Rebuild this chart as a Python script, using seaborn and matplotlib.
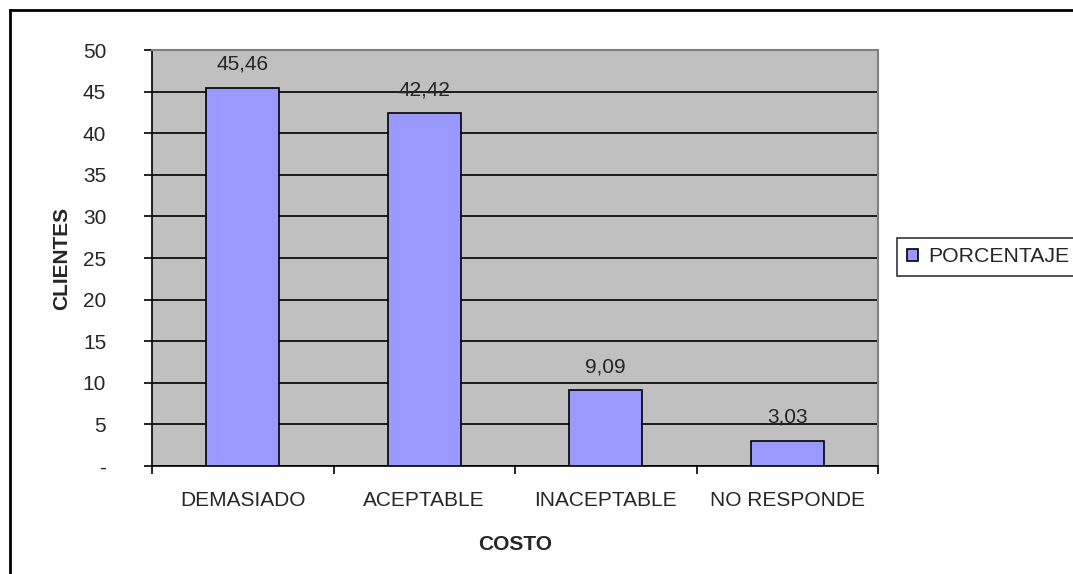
import matplotlib
matplotlib.use("Agg")
import matplotlib.pyplot as plt
import matplotlib.patches as mpatches
from matplotlib.lines import Line2D
import seaborn as sns
import pandas as pd

# Survey results: perceived cost, share of clients (%)
categorias = ["DEMASIADO", "ACEPTABLE", "INACEPTABLE", "NO RESPONDE"]
porcentaje = [45.46, 42.42, 9.09, 3.03]
etiquetas = ["45,46", "42,42", "9,09", "3,03"]
ytick_vals = [0, 5, 10, 15, 20, 25, 30, 35, 40, 45, 50]
ytick_labels = ["-", "5", "10", "15", "20", "25", "30", "35", "40", "45", "50"]

sns.set_style("white")
plt.rcParams["font.family"] = ["Liberation Sans", "DejaVu Sans"]

W, H = 1073, 574
fig = plt.figure(figsize=(W / 100, H / 100), dpi=100)
fig.patch.set_facecolor("white")

# plot area placed in pixel coordinates
L, R, T, B = 152, 878, 50, 466
ax = fig.add_axes([L / W, 1 - B / H, (R - L) / W, (B - T) / H])
ax.set_facecolor("#C0C0C0")

df = pd.DataFrame({"COSTO": categorias, "PORCENTAJE": porcentaje})
sns.barplot(data=df, x="COSTO", y="PORCENTAJE", color="#9999FF",
            edgecolor="black", linewidth=1.2, width=0.4, saturation=1,
            ax=ax, zorder=3)

ax.bar_label(ax.containers[0], labels=etiquetas, padding=10, fontsize=15)

ax.set_xlim(-0.5, len(categorias) - 0.5)
ax.set_ylim(0, 50)
ax.set_yticks(ytick_vals)
ax.set_yticklabels(ytick_labels, fontsize=15)
ax.tick_params(axis="y", direction="out", length=6, width=1.2,
               color="black", pad=27, left=True)

# category boundaries carry the ticks, labels sit in the middle
ax.set_xticks([i - 0.5 for i in range(len(categorias) + 1)])
ax.set_xticklabels([])
ax.set_xticks(range(len(categorias)), minor=True)
ax.set_xticklabels(categorias, minor=True, fontsize=15)
ax.tick_params(axis="x", which="major", direction="out", length=6,
               width=1.2, color="black", bottom=True)
ax.tick_params(axis="x", which="minor", length=0, pad=18)

ax.yaxis.grid(True, color="black", linewidth=1.2)
ax.set_axisbelow(True)

for side in ("left", "bottom"):
    ax.spines[side].set_color("black")
    ax.spines[side].set_linewidth(1.2)
for side in ("top", "right"):
    ax.spines[side].set_color("#808080")
    ax.spines[side].set_linewidth(1.5)
    ax.spines[side].set_visible(True)

ax.set_xlabel("")
ax.set_ylabel("")
fig.text(62 / W, 1 - 258 / H, "CLIENTES", rotation=90, fontsize=15,
         fontweight="bold", ha="center", va="center")
fig.text(515 / W, 1 - 544 / H, "COSTO", fontsize=15,
         fontweight="bold", ha="center", va="center")

handle = mpatches.Patch(facecolor="#9999FF", edgecolor="black", linewidth=1.2)
leg = fig.legend([handle], ["PORCENTAJE"], loc="center left",
                 bbox_to_anchor=(897 / W, 1 - 257 / H), fontsize=15.3,
                 frameon=True, fancybox=False, borderpad=0.45,
                 handlelength=0.55, handleheight=0.55, handletextpad=0.45,
                 borderaxespad=0)
leg.get_frame().set_edgecolor("black")
leg.get_frame().set_linewidth(1.2)

# chart frame: only the left and top edges fall inside the image
fx, fy = 10 / W, 1 - 10 / H
fig.add_artist(Line2D([fx, fx], [0, fy], transform=fig.transFigure,
                      color="black", linewidth=2, solid_capstyle="projecting"))
fig.add_artist(Line2D([fx, 1], [fy, fy], transform=fig.transFigure,
                      color="black", linewidth=2, solid_capstyle="projecting"))

fig.savefig("out.png", dpi=100)
